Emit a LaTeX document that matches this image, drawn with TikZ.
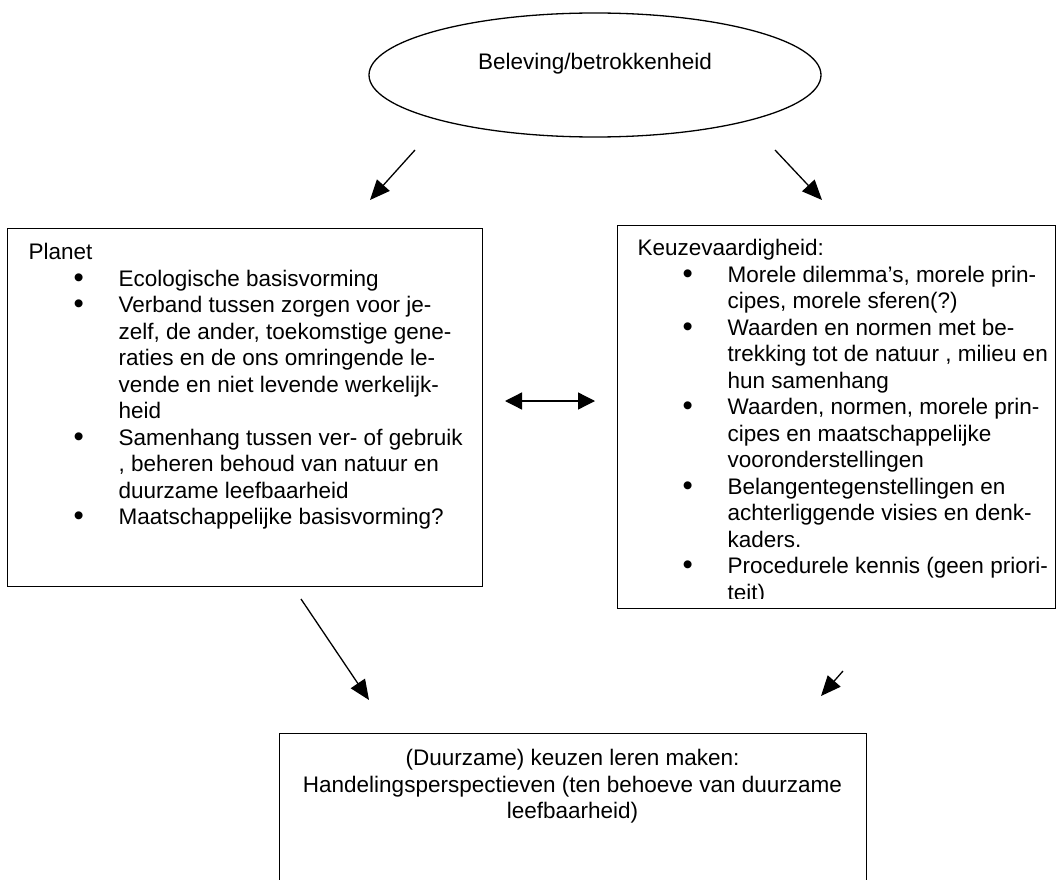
\documentclass[tikz,border=0pt]{standalone}
\usepackage{fontspec}
\setmainfont{Liberation Sans}
\usetikzlibrary{arrows.meta,shapes.geometric}
\newcommand\bitem[1]{\hspace*{50pt}\makebox[0pt]{\raisebox{-1pt}{\scalebox{1.3}{•}}}\hspace*{40pt}#1}
\newcommand\bcont[1]{\hspace*{90pt}#1}
\begin{document}
\begin{tikzpicture}[x=1pt,y=-1pt,
  line width=1.3pt,
  txt/.style={font=\fontsize{22.5}{26.5}\selectfont, inner sep=0pt},
  boxshape/.style={draw, rectangle, inner sep=0pt, anchor=north west},
  arr/.style={-{Triangle[length=20pt,width=17pt]}, line width=1.3pt},
  darr/.style={{Triangle[length=17pt,width=17pt]}-{Triangle[length=17pt,width=17pt]}, line width=1.3pt}
]
\useasboundingbox[fill=white] (0,0) rectangle (1057,880);
% top ellipse
\node[draw, ellipse, minimum width=452pt, minimum height=124pt, inner sep=0pt] (top) at (595,75) {};
\node[txt, anchor=base] (toptxt) at (595,70) {Beleving/betrokkenheid};
% left box
\node[boxshape, minimum width=475pt, minimum height=358pt] (planet) at (7,228) {};
\node[txt, anchor=north west, align=left] (planettxt) at (28,243) {Planet\\
\bitem{Ecologische basisvorming}\\
\bitem{Verband tussen zorgen voor je-}\\
\bcont{zelf, de ander, toekomstige gene-}\\
\bcont{raties en de ons omringende le-}\\
\bcont{vende en niet levende werkelijk-}\\
\bcont{heid}\\
\bitem{Samenhang tussen ver- of gebruik}\\
\bcont{, beheren behoud van natuur en}\\
\bcont{duurzame leefbaarheid}\\
\bitem{Maatschappelijke basisvorming?}};
% right box
\node[boxshape, minimum width=438pt, minimum height=383pt] (keuze) at (617,225) {};
\begin{scope}
\clip (617,225) rectangle (1055,598);
\node[txt, anchor=north west, align=left] (keuzetxt) at (637,239) {Keuzevaardigheid:\\
\bitem{Morele dilemma’s, morele prin-}\\
\bcont{cipes, morele sferen(?)}\\
\bitem{Waarden en normen met be-}\\
\bcont{trekking tot de natuur , milieu en}\\
\bcont{hun samenhang}\\
\bitem{Waarden, normen, morele prin-}\\
\bcont{cipes en maatschappelijke}\\
\bcont{vooronderstellingen}\\
\bitem{Belangentegenstellingen en}\\
\bcont{achterliggende visies en denk-}\\
\bcont{kaders.}\\
\bitem{Procedurele kennis (geen priori-}\\
\bcont{teit)}};
\end{scope}
% bottom box (runs off the page)
\begin{scope}
\clip (0,0) rectangle (1057,880);
\node[boxshape, minimum width=587pt, minimum height=170pt] (actie) at (279,733) {};
\end{scope}
\node[txt, anchor=north, align=center] (actietxt) at (572.5,749) {(Duurzame) keuzen leren maken:\\
Handelingsperspectieven (ten behoeve van duurzame\\
leefbaarheid)};
% arrows
\coordinate (a1s) at (415,150);
\coordinate (a1e) at (370,200);
\coordinate (a2s) at (775,150);
\coordinate (a2e) at (822,200);
\coordinate (a3s) at (505,401);
\coordinate (a3e) at (595,401);
\coordinate (a4s) at (301,599);
\coordinate (a4e) at (369,700);
\coordinate (a5s) at (843,671);
\coordinate (a5e) at (821,696);
\draw[arr] (a1s) -- (a1e);
\draw[arr] (a2s) -- (a2e);
\draw[darr] (a3s) -- (a3e);
\draw[arr] (a4s) -- (a4e);
\draw[arr] (a5s) -- (a5e);
\end{tikzpicture}
\end{document}
